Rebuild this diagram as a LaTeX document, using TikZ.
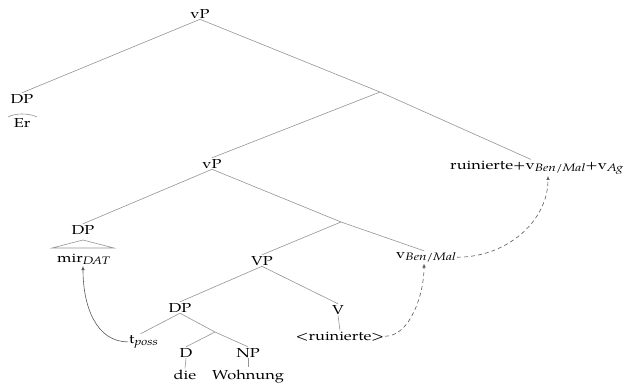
\documentclass[tikz,border=0pt]{standalone}
\usepackage{fontspec}
\setmainfont[FakeStretch=1.26]{TeX Gyre Pagella}
\usetikzlibrary{arrows.meta,calc}
% italic subscript, a little larger than the default script size
\newcommand{\subit}[1]{\raisebox{-2.8pt}{\fontsize{10.8}{12}\selectfont\itshape #1}}
\begin{document}
\begin{tikzpicture}[x=1pt,y=-1pt,
  lbl/.style={inner sep=1pt, anchor=base, font=\fontsize{13}{15}\selectfont},
  branch/.style={draw=black!42, line width=0.6pt},
  move/.style={draw=black!65, line width=0.6pt, -{Latex[length=4pt,width=3.5pt]}},
  trace/.style={move, dash pattern=on 4pt off 3pt},
]
\useasboundingbox (0,0) rectangle (626,386);

% labels of the tree (positions are baselines)
\node[lbl] (vPtop) at (200,18) {vP};
\node[lbl] (dpEr) at (22,103) {DP};
\node[lbl] (er) at (22,127) {Er};
\coordinate (vbar) at (380,92);
\node[lbl, anchor=base west] (ruin) at (449,169) {ruinierte+v\subit{Ben/Mal}+v\subit{Ag}};
\node[lbl] (vPlow) at (212,168) {vP};
\node[lbl] (dpMir) at (83,234) {DP};
\node[lbl, anchor=base west] (mir) at (56,262) {mir\subit{DAT}};
\coordinate (vbarlow) at (341,222);
\node[lbl, anchor=base west] (vben) at (395,258) {v\subit{Ben/Mal}};
\node[lbl] (VP) at (262,265) {VP};
\node[lbl] (dpObj) at (180,312) {DP};
\node[lbl, anchor=base west] (tposs) at (128,343) {t\subit{poss}};
\coordinate (dbar) at (215,332);
\node[lbl] (D) at (186,357) {D};
\node[lbl] (NP) at (248,357) {NP};
\node[lbl] (die) at (185,379) {die};
\node[lbl] (wohnung) at (248,379) {Wohnung};
\node[lbl] (V) at (338,314) {V};
\node[lbl] (ruinTrace) at (340,340) {<ruinierte>};

% branches
\draw[branch] (vPtop.south) -- (dpEr.north);
\draw[branch] (vPtop.south) -- (vbar) -- ([xshift=82pt]ruin.north west);
\draw[branch] (vbar) -- (vPlow.north);
\draw[branch] (vPlow.south) -- (dpMir.north);
\draw[branch] (vPlow.south) -- (vbarlow) -- ([xshift=-2pt]vben.north);
\draw[branch] (vbarlow) -- (VP.north);
\draw[branch] (VP.south) -- (dpObj.north);
\draw[branch] (VP.south) -- (V.north);
\draw[branch] (dpObj.south) -- ([xshift=-3pt]tposs.north);
\draw[branch] (dpObj.south) -- (dbar) -- (NP.north);
\draw[branch] (dbar) -- (D.north);
\draw[branch] (D.south) -- (die.north);
\draw[branch] (NP.south) -- ([yshift=1pt]wohnung.north);
\draw[branch] (V.south) -- (ruinTrace.north);

% flat roof over Er
\draw[branch] ($(er.base)+(-14,-10)$) .. controls ($(er.base)+(-7,-14)$) and ($(er.base)+(7,-14)$) .. ($(er.base)+(15,-10)$);
% triangle over mir
\draw[branch] ($(dpMir.base)+(0,6)$) -- ($(dpMir.base)+(-31,14)$) -- ($(dpMir.base)+(31,14)$) -- cycle;

% movement arrows
\draw[move] (tposs.west) .. controls +(-32,0) and +(0,40) .. ([xshift=27pt]mir.south west);
\draw[trace] (ruinTrace.east) .. controls +(25,0) and +(0,30) .. ([xshift=-2pt]vben.south);
\draw[trace] (vben.east) .. controls +(50,0) and +(0,45) .. ([xshift=99pt]ruin.south west);
\end{tikzpicture}
\end{document}
